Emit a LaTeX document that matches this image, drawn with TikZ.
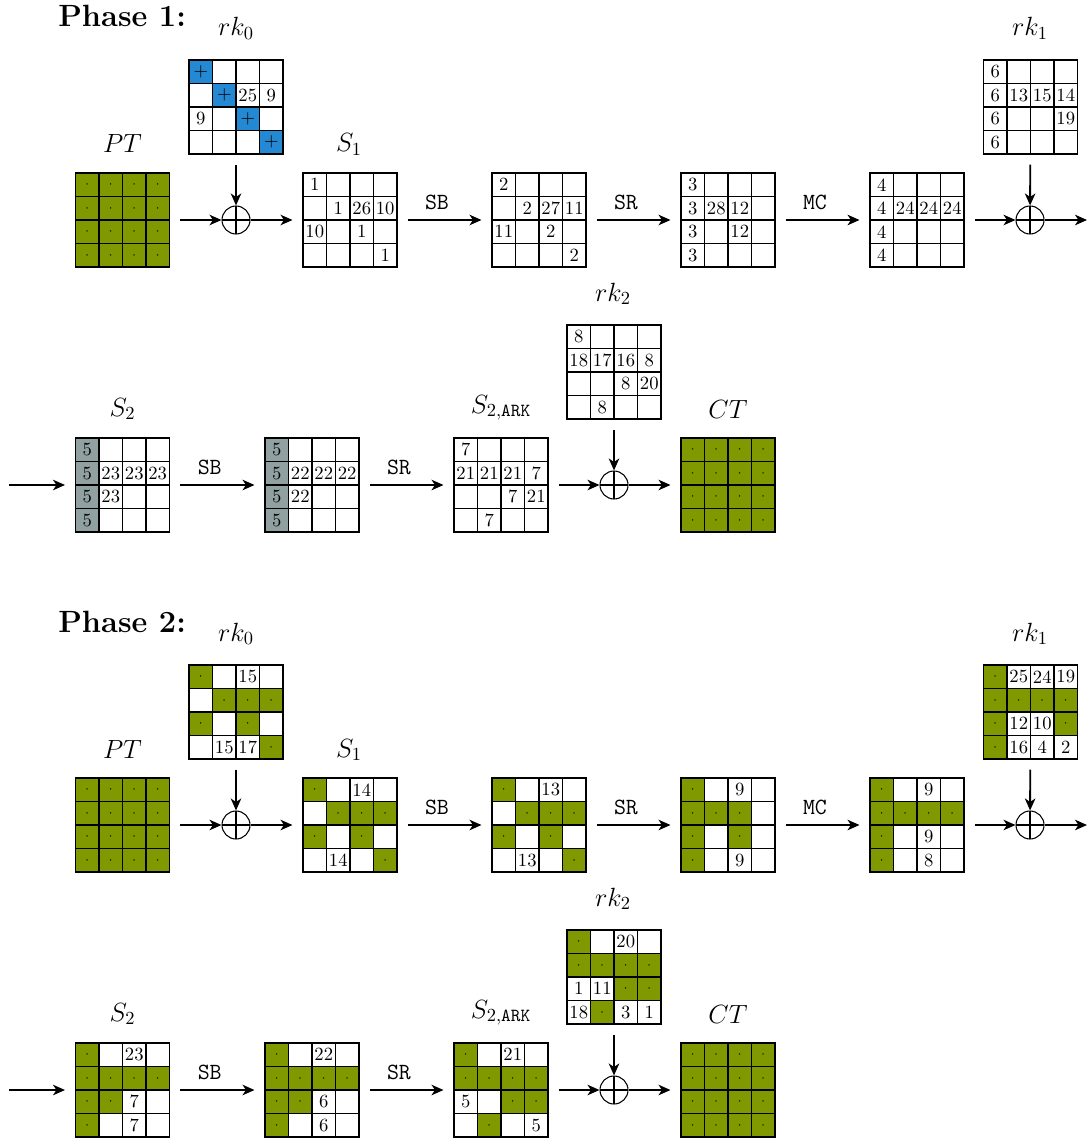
\RequirePackage{fix-cm}
\documentclass[tikz,border=0pt]{standalone}
\usepackage{fontspec}
\usetikzlibrary{matrix,arrows.meta}
\definecolor{tgreen}{RGB}{128,153,0}
\definecolor{tblue}{RGB}{36,136,210}
\definecolor{tgray}{RGB}{145,160,160}
\newcommand\gdot{{\scriptsize$\cdot$}}
\tikzset{
  cell/.style={draw, line width=0.6pt, minimum size=0.47cm, inner sep=0pt, anchor=center, font=\fontsize{10.6}{12}\selectfont},
  G/.style={fill=tgreen},
  B/.style={fill=tblue},
  Y/.style={fill=tgray},
  grid/.style={matrix of nodes, nodes in empty cells, nodes={cell}, column sep=-0.6pt, row sep=-0.6pt, inner sep=0pt, outer sep=0pt},
  xor/.style={circle, draw, line width=0.6pt, minimum size=0.56cm, inner sep=0pt,
    path picture={\draw[line width=0.6pt] (path picture bounding box.north) -- (path picture bounding box.south)
      (path picture bounding box.west) -- (path picture bounding box.east);}},
  arr/.style={-{Stealth[length=2.4mm,width=2.1mm,inset=0.7mm]}, line width=1.05pt},
  gg/.style={arr, shorten <=0.2cm, shorten >=0.2cm},
  gx/.style={arr, shorten <=0.2cm},
  xg/.style={arr, shorten >=0.2cm},
  lbl/.style={font=\fontsize{15}{17}\selectfont, anchor=base, inner sep=0pt},
  ttl/.style={font=\fontsize{17.5}{20}\selectfont\bfseries, anchor=base west, inner sep=0pt},
  op/.style={font=\fontsize{13.2}{15}\selectfont\ttfamily, pos=0.42, above=0.07cm}
}
\begin{document}
\begin{tikzpicture}[x=0.02cm,y=-0.02cm]
\useasboundingbox (0,0) rectangle (1088,1138);

% ================= Phase 1 =================
\node[ttl] (t1) at (58,27) {Phase 1:};
\node[lbl] (l1rk0) at (236,36) {$rk_0$};
\node[lbl] (l1rk1) at (1030,36) {$rk_1$};
\node[lbl] (l1pt) at (122.5,153) {$PT$};
\node[lbl] (l1s1) at (349,152) {$S_1$};

\matrix (p1rk0) [grid] at (236,107) {
|[B]| $+$ & & & \\
 & |[B]| $+$ & 25 & 9 \\
9 & & |[B]| $+$ & \\
 & & & |[B]| $+$ \\
};
\matrix (p1pt) [grid] at (122.5,220) {
|[G]| \gdot & |[G]| \gdot & |[G]| \gdot & |[G]| \gdot \\
|[G]| \gdot & |[G]| \gdot & |[G]| \gdot & |[G]| \gdot \\
|[G]| \gdot & |[G]| \gdot & |[G]| \gdot & |[G]| \gdot \\
|[G]| \gdot & |[G]| \gdot & |[G]| \gdot & |[G]| \gdot \\
};
\node[xor] (p1x0) at (236,220) {};
\matrix (p1s1) [grid] at (350,220) {
1 & & & \\
 & 1 & 26 & 10 \\
10 & & 1 & \\
 & & & 1 \\
};
\matrix (p1sb) [grid] at (539,220) {
2 & & & \\
 & 2 & 27 & 11 \\
11 & & 2 & \\
 & & & 2 \\
};
\matrix (p1sr) [grid] at (728,220) {
3 & & & \\
3 & 28 & 12 & \\
3 & & 12 & \\
3 & & & \\
};
\matrix (p1mc) [grid] at (917,220) {
4 & & & \\
4 & 24 & 24 & 24 \\
4 & & & \\
4 & & & \\
};
\matrix (p1rk1) [grid] at (1030.5,107) {
6 & & & \\
6 & 13 & 15 & 14 \\
6 & & & 19 \\
6 & & & \\
};
\node[xor] (p1x1) at (1030,220) {};
\coordinate (p1e1) at (1087,220);

\draw[gx] (p1pt) -- (p1x0);
\draw[gx] (p1rk0) -- (p1x0);
\draw[xg] (p1x0) -- (p1s1);
\draw[gg] (p1s1) -- node[op] {SB} (p1sb);
\draw[gg] (p1sb) -- node[op] {SR} (p1sr);
\draw[gg] (p1sr) -- node[op] {MC} (p1mc);
\draw[gx] (p1mc) -- (p1x1);
\draw[gx] (p1rk1) -- (p1x1);
\draw[arr] (p1x1) -- (p1e1);

% row 2
\node[lbl] (l1s2) at (122.5,416) {$S_2$};
\node[lbl] (l1ark) at (501,413) {$S_{2,\mathtt{ARK}}$};
\node[lbl] (l1rk2) at (613,301) {$rk_2$};
\node[lbl] (l1ct) at (728,418) {$CT$};

\coordinate (p1s0) at (9,485);
\matrix (p1s2) [grid] at (122.5,485) {
|[Y]| 5 & & & \\
|[Y]| 5 & 23 & 23 & 23 \\
|[Y]| 5 & 23 & & \\
|[Y]| 5 & & & \\
};
\matrix (p1sb2) [grid] at (312,485) {
|[Y]| 5 & & & \\
|[Y]| 5 & 22 & 22 & 22 \\
|[Y]| 5 & 22 & & \\
|[Y]| 5 & & & \\
};
\matrix (p1ark) [grid] at (501,485) {
7 & & & \\
21 & 21 & 21 & 7 \\
 & & 7 & 21 \\
 & 7 & & \\
};
\matrix (p1rk2) [grid] at (614,372) {
8 & & & \\
18 & 17 & 16 & 8 \\
 & & 8 & 20 \\
 & 8 & & \\
};
\node[xor] (p1x2) at (614,485) {};
\matrix (p1ct) [grid] at (728,485) {
|[G]| \gdot & |[G]| \gdot & |[G]| \gdot & |[G]| \gdot \\
|[G]| \gdot & |[G]| \gdot & |[G]| \gdot & |[G]| \gdot \\
|[G]| \gdot & |[G]| \gdot & |[G]| \gdot & |[G]| \gdot \\
|[G]| \gdot & |[G]| \gdot & |[G]| \gdot & |[G]| \gdot \\
};

\draw[xg] (p1s0) -- (p1s2);
\draw[gg] (p1s2) -- node[op] {SB} (p1sb2);
\draw[gg] (p1sb2) -- node[op] {SR} (p1ark);
\draw[gx] (p1ark) -- (p1x2);
\draw[gx] (p1rk2) -- (p1x2);
\draw[xg] (p1x2) -- (p1ct);

% ================= Phase 2 =================
\node[ttl] (t2) at (58,632) {Phase 2:};
\node[lbl] (l2rk0) at (236,641) {$rk_0$};
\node[lbl] (l2rk1) at (1030,641) {$rk_1$};
\node[lbl] (l2pt) at (122.5,758) {$PT$};
\node[lbl] (l2s1) at (349,757) {$S_1$};

\matrix (p2rk0) [grid] at (236,712) {
|[G]| \gdot & & 15 & \\
 & |[G]| \gdot & |[G]| \gdot & |[G]| \gdot \\
|[G]| \gdot & & |[G]| \gdot & \\
 & 15 & 17 & |[G]| \gdot \\
};
\matrix (p2pt) [grid] at (122.5,825) {
|[G]| \gdot & |[G]| \gdot & |[G]| \gdot & |[G]| \gdot \\
|[G]| \gdot & |[G]| \gdot & |[G]| \gdot & |[G]| \gdot \\
|[G]| \gdot & |[G]| \gdot & |[G]| \gdot & |[G]| \gdot \\
|[G]| \gdot & |[G]| \gdot & |[G]| \gdot & |[G]| \gdot \\
};
\node[xor] (p2x0) at (236,825) {};
\matrix (p2s1) [grid] at (350,825) {
|[G]| \gdot & & 14 & \\
 & |[G]| \gdot & |[G]| \gdot & |[G]| \gdot \\
|[G]| \gdot & & |[G]| \gdot & \\
 & 14 & & |[G]| \gdot \\
};
\matrix (p2sb) [grid] at (539,825) {
|[G]| \gdot & & 13 & \\
 & |[G]| \gdot & |[G]| \gdot & |[G]| \gdot \\
|[G]| \gdot & & |[G]| \gdot & \\
 & 13 & & |[G]| \gdot \\
};
\matrix (p2sr) [grid] at (728,825) {
|[G]| \gdot & & 9 & \\
|[G]| \gdot & |[G]| \gdot & |[G]| \gdot & \\
|[G]| \gdot & & |[G]| \gdot & \\
|[G]| \gdot & & 9 & \\
};
\matrix (p2mc) [grid] at (917,825) {
|[G]| \gdot & & 9 & \\
|[G]| \gdot & |[G]| \gdot & |[G]| \gdot & |[G]| \gdot \\
|[G]| \gdot & & 9 & \\
|[G]| \gdot & & 8 & \\
};
\matrix (p2rk1) [grid] at (1030.5,712) {
|[G]| \gdot & 25 & 24 & 19 \\
|[G]| \gdot & |[G]| \gdot & |[G]| \gdot & |[G]| \gdot \\
|[G]| \gdot & 12 & 10 & |[G]| \gdot \\
|[G]| \gdot & 16 & 4 & 2 \\
};
\node[xor] (p2x1) at (1030,825) {};
\coordinate (p2e1) at (1087,825);

\draw[gx] (p2pt) -- (p2x0);
\draw[gx] (p2rk0) -- (p2x0);
\draw[xg] (p2x0) -- (p2s1);
\draw[gg] (p2s1) -- node[op] {SB} (p2sb);
\draw[gg] (p2sb) -- node[op] {SR} (p2sr);
\draw[gg] (p2sr) -- node[op] {MC} (p2mc);
\draw[gx] (p2mc) -- (p2x1);
\draw[gx] (p2rk1) -- (p2x1);
\draw[arr] (p2x1) -- (p2e1);

% row 2
\node[lbl] (l2s2) at (122.5,1021) {$S_2$};
\node[lbl] (l2ark) at (501,1018) {$S_{2,\mathtt{ARK}}$};
\node[lbl] (l2rk2) at (613,906) {$rk_2$};
\node[lbl] (l2ct) at (728,1023) {$CT$};

\coordinate (p2s0) at (9,1090);
\matrix (p2s2) [grid] at (122.5,1090) {
|[G]| \gdot & & 23 & \\
|[G]| \gdot & |[G]| \gdot & |[G]| \gdot & |[G]| \gdot \\
|[G]| \gdot & |[G]| \gdot & 7 & \\
|[G]| \gdot & & 7 & \\
};
\matrix (p2sb2) [grid] at (312,1090) {
|[G]| \gdot & & 22 & \\
|[G]| \gdot & |[G]| \gdot & |[G]| \gdot & |[G]| \gdot \\
|[G]| \gdot & |[G]| \gdot & 6 & \\
|[G]| \gdot & & 6 & \\
};
\matrix (p2ark) [grid] at (501,1090) {
|[G]| \gdot & & 21 & \\
|[G]| \gdot & |[G]| \gdot & |[G]| \gdot & |[G]| \gdot \\
5 & & |[G]| \gdot & |[G]| \gdot \\
 & |[G]| \gdot & & 5 \\
};
\matrix (p2rk2) [grid] at (614,977) {
|[G]| \gdot & & 20 & \\
|[G]| \gdot & |[G]| \gdot & |[G]| \gdot & |[G]| \gdot \\
1 & 11 & |[G]| \gdot & |[G]| \gdot \\
18 & |[G]| \gdot & 3 & 1 \\
};
\node[xor] (p2x2) at (614,1090) {};
\matrix (p2ct) [grid] at (728,1090) {
|[G]| \gdot & |[G]| \gdot & |[G]| \gdot & |[G]| \gdot \\
|[G]| \gdot & |[G]| \gdot & |[G]| \gdot & |[G]| \gdot \\
|[G]| \gdot & |[G]| \gdot & |[G]| \gdot & |[G]| \gdot \\
|[G]| \gdot & |[G]| \gdot & |[G]| \gdot & |[G]| \gdot \\
};

\draw[xg] (p2s0) -- (p2s2);
\draw[gg] (p2s2) -- node[op] {SB} (p2sb2);
\draw[gg] (p2sb2) -- node[op] {SR} (p2ark);
\draw[gx] (p2ark) -- (p2x2);
\draw[gx] (p2rk2) -- (p2x2);
\draw[xg] (p2x2) -- (p2ct);
\end{tikzpicture}
\end{document}
